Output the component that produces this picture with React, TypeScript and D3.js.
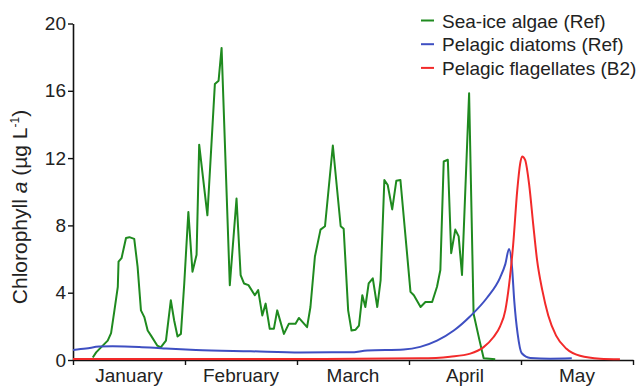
import React, { useEffect, useRef } from "react";
import * as d3 from "d3";

// x values are days since 1 January (each month drawn as 30 days wide), y values are chl a in µg/L
const months = ["January", "February", "March", "April", "May"];
const monthStarts = [0, 30, 60, 90, 120, 150];
const yTicks = [0, 4, 8, 12, 16, 20];

const seaIceAlgae: [number, number][] = [
  [5.3, 0.15], [6.2, 0.45], [7.5, 0.75], [9.3, 1.15], [10.2, 1.6], [11.0, 2.8], [12.0, 4.35],
  [12.2, 5.85], [13.0, 6.05], [14.2, 7.25], [15.1, 7.3], [16.4, 7.2], [17.3, 5.55], [18.2, 2.95],
  [19.1, 2.55], [20.0, 1.75], [20.9, 1.45], [22.6, 0.85], [23.5, 0.75], [24.9, 1.15], [26.2, 3.55],
  [27.1, 2.35], [28.0, 1.4], [28.9, 1.55], [29.8, 4.55], [30.9, 8.8], [32.0, 5.25], [33.1, 6.25],
  [33.8, 12.8], [36.0, 8.6], [38.0, 16.4], [39.0, 16.6], [39.8, 18.55], [42.0, 4.45], [43.8, 9.6],
  [44.9, 5.05], [45.8, 4.55], [47.0, 4.45], [48.7, 3.85], [49.6, 4.15], [50.7, 2.65], [51.6, 3.35],
  [52.7, 1.85], [53.8, 1.85], [54.7, 2.95], [56.5, 1.55], [57.8, 2.15], [59.6, 2.15], [60.5, 2.5],
  [62.7, 1.95], [63.6, 3.15], [64.8, 6.15], [66.3, 7.75], [67.5, 7.95], [69.6, 12.75], [71.7, 7.95],
  [72.5, 7.8], [73.7, 2.95], [74.6, 1.75], [75.7, 1.8], [76.6, 2.05], [77.5, 3.85], [78.3, 3.15],
  [79.2, 4.55], [80.3, 4.85], [81.5, 3.15], [82.4, 4.75], [83.4, 10.7], [84.3, 10.4], [85.5, 8.95],
  [86.6, 10.65], [87.7, 10.7], [90.4, 4.05], [91.3, 3.85], [93.1, 3.15], [94.4, 3.45], [96.2, 3.45],
  [97.5, 4.35], [98.4, 5.35], [99.3, 11.8], [100.4, 11.9], [101.3, 6.35], [102.4, 7.75], [103.3, 7.35],
  [104.2, 5.05], [106.1, 15.85], [107.3, 2.75], [108.9, 1.15], [110.0, 0.1], [113.1, 0.05],
];

const pelagicDiatoms: [number, number][] = [
  [0, 0.6], [3.5, 0.68], [7, 0.8], [10.6, 0.82], [17.7, 0.78], [24.9, 0.68], [32.9, 0.6],
  [47.6, 0.52], [61, 0.45], [74.3, 0.46], [78.8, 0.56], [88.6, 0.62], [93, 0.78], [97.5, 1.15],
  [102, 1.75], [106.4, 2.6], [110.9, 3.7], [114.4, 4.9], [115.8, 5.7], [116.8, 6.6], [117.6, 5.5],
  [118.2, 3.5], [119.1, 1.55], [120.2, 0.4], [122.5, 0.12], [127.8, 0.08], [133.6, 0.1],
];

const pelagicFlagellates: [number, number][] = [
  [0, 0.06], [60, 0.06], [93, 0.1], [101, 0.2], [106.4, 0.38], [109.9, 0.75], [112.6, 1.35],
  [114.4, 2.0], [115.8, 2.95], [116.8, 4.45], [117.9, 6.85], [119, 10.1], [119.8, 11.7], [120.3, 12.1],
  [121.1, 11.9], [122.2, 10.4], [123.3, 8.0], [124.3, 5.95], [125.7, 4.15], [127.3, 2.65],
  [129.4, 1.45], [132.1, 0.68], [135.8, 0.25], [141.2, 0.08], [146.5, 0.05],
];

const seriesNames = ["Sea-ice algae (Ref)", "Pelagic diatoms (Ref)", "Pelagic flagellates (B2)"];
const seriesColors = ["#1f8a1f", "#3e4fc2", "#f22a2a"];

const font = "'Liberation Sans', Arial, sans-serif";

export default function App() {
  const ref = useRef<SVGSVGElement>(null);

  useEffect(() => {
    const width = 641;
    const height = 389;
    const svg = d3.select(ref.current).attr("width", width).attr("height", height);
    svg.selectAll("*").remove();

    const xScale = d3.scaleLinear().domain([0, 150]).range([73, 633]);
    const yScale = d3.scaleLinear().domain([0, 20]).range([360, 23.5]);

    // y axis
    const yAxis = svg.append("g").attr("transform", `translate(${xScale(0)},0)`)
      .call(d3.axisLeft(yScale).tickValues(yTicks).tickSize(5).tickSizeOuter(0).tickPadding(2));
    yAxis.selectAll("text").attr("font-size", 19).attr("font-family", font).attr("fill", "#222");

    // x axis, labels sit between the month ticks
    const xAxis = svg.append("g").attr("transform", `translate(0,${yScale(0)})`)
      .call(d3.axisBottom(xScale).tickValues(monthStarts).tickFormat(() => "").tickSize(5).tickSizeOuter(0));

    [yAxis, xAxis].forEach(g => {
      g.select(".domain").attr("stroke", "#111").attr("stroke-width", 1.6);
      g.selectAll(".tick line").attr("stroke", "#111").attr("stroke-width", 1.4);
    });

    svg.selectAll(".month").data(months).join("text").attr("class", "month")
      .attr("x", (d, i) => xScale(monthStarts[i] + 15))
      .attr("y", 382)
      .attr("text-anchor", "middle")
      .attr("font-size", 19).attr("font-family", font).attr("fill", "#222")
      .text(d => d);

    // y title
    const title = svg.append("text")
      .attr("transform", "translate(27,207) rotate(-90)")
      .attr("text-anchor", "middle")
      .attr("font-size", 21).attr("font-family", font).attr("fill", "#222");
    title.append("tspan").text("Chlorophyll ");
    title.append("tspan").attr("font-style", "italic").text("a");
    title.append("tspan").text(" (µg L");
    title.append("tspan").attr("font-size", 12).attr("dy", -8).text("-1");
    title.append("tspan").attr("dy", 8).text(")");

    const line = d3.line<[number, number]>().x(d => xScale(d[0])).y(d => yScale(d[1]));
    const smooth = d3.line<[number, number]>().x(d => xScale(d[0])).y(d => yScale(d[1])).curve(d3.curveMonotoneX);

    const series = [
      { data: seaIceAlgae, gen: line },
      { data: pelagicDiatoms, gen: smooth },
      { data: pelagicFlagellates, gen: smooth },
    ];

    series.forEach((s, i) => {
      svg.append("path")
        .attr("d", s.gen(s.data))
        .attr("fill", "none")
        .attr("stroke", seriesColors[i])
        .attr("stroke-width", 2)
        .attr("stroke-linejoin", "round");
    });

    // legend
    const legend = svg.selectAll(".legend").data(seriesNames).join("g").attr("class", "legend")
      .attr("transform", (d, i) => `translate(421,${20.5 + i * 23.7})`);
    legend.append("line").attr("x1", 0).attr("x2", 13).attr("y1", 0).attr("y2", 0)
      .attr("stroke", (d, i) => seriesColors[i]).attr("stroke-width", 2);
    legend.append("text").attr("x", 21).attr("y", 7)
      .attr("font-size", 19).attr("font-family", font).attr("fill", "#222")
      .text(d => d);
  }, []);

  return <svg ref={ref} style={{ position: "absolute", left: 0, top: 0 }} />;
}
